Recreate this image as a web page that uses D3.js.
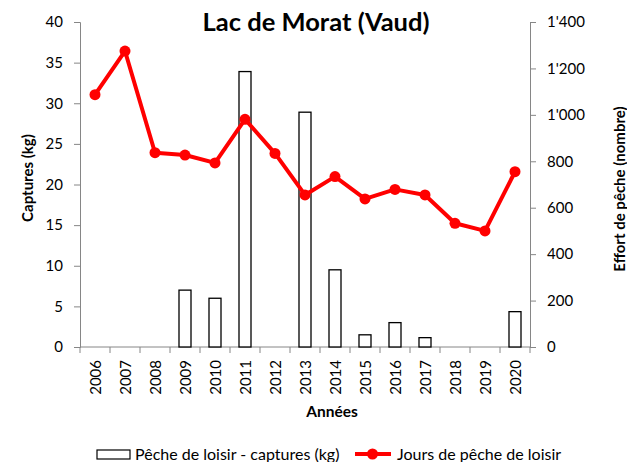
<!DOCTYPE html>
<html><head><meta charset="utf-8">
<script src="https://cdn.jsdelivr.net/npm/d3@7"></script>
<style>body{margin:0;background:#fff}svg{display:block}text{font-family:Lato,"Open Sans",sans-serif}</style>
</head><body><svg id="c" width="627" height="462"></svg>
<script>
const years = ["2006","2007","2008","2009","2010","2011","2012","2013","2014","2015","2016","2017","2018","2019","2020"];
const captures = [0,0,0,7.0,6.0,33.9,0,28.9,9.5,1.5,3.0,1.15,0,0,4.35];
const effort = [1087,1275,837,827,793,981,834,655,734,638,679,655,533,500,755];
const leftTicks = [0,5,10,15,20,25,30,35,40];
const rightTicks = [0,200,400,600,800,1000,1200,1400];

const svg = d3.select("#c");
const L=80,R=530,T=22,B=347;
const x = d3.scaleBand().domain(years).range([L,R]);
const yL = d3.scaleLinear().domain([0,40]).range([B,T]);
const yR = d3.scaleLinear().domain([0,1400]).range([B,T]);
const grey="#868686";
const fmt = d => d3.format(",")(d).replace(/,/g,"'");

// axes
const gl = svg.append("g").attr("transform",`translate(${L},0)`).call(d3.axisLeft(yL).tickValues(leftTicks).tickSize(6).tickPadding(11));
const gr = svg.append("g").attr("transform",`translate(${R},0)`).call(d3.axisRight(yR).tickValues(rightTicks).tickFormat(fmt).tickSize(6).tickPadding(11));
[gl,gr].forEach(g=>{g.selectAll("path,line").attr("stroke",grey);g.selectAll("text").attr("font-size",15).attr("fill","#000").attr("font-family","Lato,'Open Sans',sans-serif");});

// x axis
const gx = svg.append("g").attr("transform",`translate(0,${B})`);
gx.append("line").attr("x1",L).attr("x2",R).attr("stroke",grey);
gx.selectAll("line.t").data(d3.range(years.length+1)).join("line").attr("class","t")
  .attr("x1",i=>L+i*x.step()).attr("x2",i=>L+i*x.step()).attr("y1",0).attr("y2",6).attr("stroke",grey);
gx.selectAll("text").data(years).join("text")
  .attr("transform",d=>`translate(${x(d)+x.bandwidth()/2+6},13) rotate(-90)`)
  .attr("text-anchor","end").attr("font-size",15).text(d=>d);

// bars
const bw=12;
svg.append("g").selectAll("rect").data(years.map((y,i)=>({y,v:captures[i]})).filter(d=>d.v>0)).join("rect")
  .attr("x",d=>x(d.y)+x.bandwidth()/2-bw/2).attr("width",bw)
  .attr("y",d=>yL(d.v)).attr("height",d=>B-yL(d.v))
  .attr("fill","#fff").attr("stroke","#000").attr("stroke-width",1.3);

// line
const line = d3.line().x((d,i)=>x(years[i])+x.bandwidth()/2).y(d=>yR(d));
svg.append("path").datum(effort).attr("d",line).attr("fill","none").attr("stroke","#ff0000").attr("stroke-width",4).attr("stroke-linejoin","round");
svg.append("g").selectAll("circle").data(effort).join("circle")
  .attr("cx",(d,i)=>x(years[i])+x.bandwidth()/2).attr("cy",d=>yR(d)).attr("r",5.5).attr("fill","#ff0000");

// titles
svg.append("text").attr("x",316).attr("y",31).attr("text-anchor","middle").attr("font-size",25.5).attr("font-weight","bold").text("Lac de Morat (Vaud)");
svg.append("text").attr("transform","translate(33,178) rotate(-90)").attr("text-anchor","middle").attr("font-size",15).attr("font-weight","bold").text("Captures (kg)");
svg.append("text").attr("transform","translate(625,189) rotate(-90)").attr("text-anchor","middle").attr("font-size",15).attr("font-weight","bold").text("Effort de pêche (nombre)");
svg.append("text").attr("x",332).attr("y",417).attr("text-anchor","middle").attr("font-size",15.5).attr("font-weight","bold").text("Années");

// legend
const lg = svg.append("g");
lg.append("rect").attr("x",97).attr("y",450).attr("width",33).attr("height",9).attr("fill","#fff").attr("stroke","#000").attr("stroke-width",1.2);
lg.append("text").attr("x",135).attr("y",459.5).attr("font-size",16).text("Pêche de loisir - captures (kg)");
lg.append("line").attr("x1",355).attr("x2",391).attr("y1",454).attr("y2",454).attr("stroke","#ff0000").attr("stroke-width",4);
lg.append("circle").attr("cx",372.5).attr("cy",454).attr("r",5.5).attr("fill","#ff0000");
lg.append("text").attr("x",397).attr("y",459.5).attr("font-size",16).text("Jours de pêche de loisir");
</script></body></html>
